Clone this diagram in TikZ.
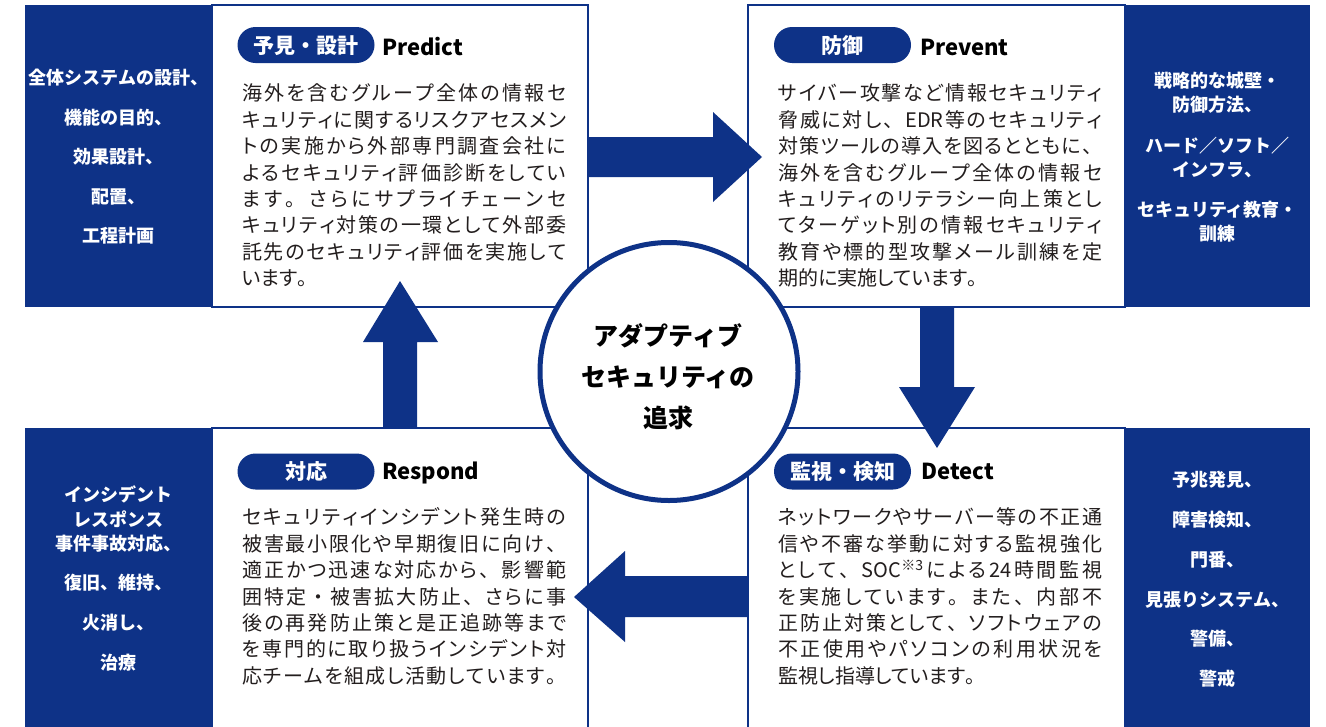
\documentclass[tikz,border=0pt]{standalone}
\usepackage{fontspec}
\setmainfont{Noto Sans CJK JP}
\newfontfamily\paltfont{Noto Sans CJK JP}[RawFeature=+palt]
\newfontfamily\nopaltfont{Noto Sans CJK JP}
\definecolor{navy}{RGB}{14,50,135}
\definecolor{ink}{RGB}{35,30,30}
\newdimen\jlinew \jlinew=324pt
\def\kuten{。}\def\touten{、}\def\nakaguro{・}
\newcommand\spreadOut[1]{\def\tmpa{#1}%
  \ifx\tmpa\kuten{\nopaltfont#1}\else\ifx\tmpa\touten{\nopaltfont#1}\else
  \ifx\tmpa\nakaguro{\nopaltfont#1}\else#1\fi\fi\fi}
\def\spreadA#1{\spreadOut{#1}\futurelet\next\spreadB}
\def\spreadB{\ifx\next\relax\expandafter\spreadEnd\else\hskip 0pt plus 1fil minus 3pt\relax\expandafter\spreadA\fi}
\def\spreadEnd\relax{}
\newcommand\jl[1]{\hbox to\jlinew{\rule[-0.12em]{0pt}{1em}\spreadA#1\relax}}
\newcommand\jn[1]{\hbox{\rule[-0.12em]{0pt}{1em}\spreadN#1\relax}}
\def\spreadN#1{\spreadOut{#1}\futurelet\next\spreadC}
\def\spreadC{\ifx\next\relax\expandafter\spreadEnd\else\expandafter\spreadN\fi}
\newcommand\cl[1]{\rule[-0.12em]{0pt}{1em}#1}
\begin{document}
\begin{tikzpicture}[x=1pt,y=-1pt,
  panel/.style={fill=navy},
  boxline/.style={draw=navy,line width=1.3pt,fill=white},
  blockarrow/.style={fill=navy},
  pill/.style={fill=navy,text=white,rounded corners=18pt,minimum width=137pt,minimum height=36pt,inner sep=0pt,
    font=\bfseries\fontsize{21}{21}\selectfont,text height=18.5pt,text depth=2.5pt},
  eng/.style={anchor=west,inner sep=0pt,text=black,font=\bfseries\fontsize{22}{22}\selectfont,text height=15.4pt,text depth=0pt},
  bodytext/.style={anchor=north west,inner sep=0pt,text=ink,font=\paltfont\fontsize{20}{26.4}\selectfont},
  sidetext/.style={inner sep=0pt,text=white,font=\bfseries\fontsize{18}{18}\selectfont,text height=15.84pt,text depth=2.16pt},
  coretext/.style={align=center,inner sep=0pt,text=black,font=\bfseries\fontsize{25}{41}\selectfont}
]
\clip (0,0) rectangle (1326,726);
\fill[white] (0,0) rectangle (1326,726);
% side panels
\fill[panel] (25,5) rectangle (212,307);
\fill[panel] (1125,5) rectangle (1310,307);
\fill[panel] (25,428) rectangle (212,740);
\fill[panel] (1125,428) rectangle (1310,740);
% white boxes
\draw[boxline] (212,5) rectangle (588,307);
\draw[boxline] (748,5) rectangle (1125,307);
\draw[boxline] (212,428) rectangle (588,740);
\draw[boxline] (748,428) rectangle (1125,740);
% block arrows
\fill[blockarrow] (588,137) -- (713,137) -- (713,112) -- (762,157) -- (713,202) -- (713,177) -- (588,177) -- cycle;
\fill[blockarrow] (920,307) -- (920,387) -- (899,387) -- (937,448) -- (975,387) -- (954,387) -- (954,307) -- cycle;
\fill[blockarrow] (748,576) -- (625,576) -- (625,551) -- (574,597) -- (625,642) -- (625,617) -- (748,617) -- cycle;
\fill[blockarrow] (383,428) -- (383,342) -- (363,342) -- (400,281) -- (438,342) -- (417,342) -- (417,428) -- cycle;
% centre circle
\node[circle,draw=navy,line width=5pt,fill=white,minimum size=258pt,inner sep=0pt] (core) at (669,371.5) {};
\node[coretext] (corelabel) at (668,377) {\cl{アダプティブ}\\\cl{セキュリティの}\\\cl{追求}};
% pills and english labels
\node[pill] (ppredict) at (306,45) {予見・設計};
\node[pill] (pprevent) at (842.5,45) {防御};
\node[pill] (prespond) at (306,471.5) {対応};
\node[pill] (pdetect) at (842.5,471.5) {監視・検知};
\node[eng] (epredict) at (382,48) {Predict};
\node[eng] (eprevent) at (920,48) {Prevent};
\node[eng] (erespond) at (382,472) {Respond};
\node[eng] (edetect) at (921,472) {Detect};
% body texts
\node[bodytext] (bpredict) at (242,83) {\vbox{%
\jl{海外を含むグループ全体の情報セ}
\jl{キュリティに関するリスクアセスメン}
\jl{トの実施から外部専門調査会社に}
\jl{よるセキュリティ評価診断をしてい}
\jl{ます。さらにサプライチェーンセ}
\jl{キュリティ対策の一環として外部委}
\jl{託先のセキュリティ評価を実施して}
\jn{います。}}};
\node[bodytext] (bprevent) at (778,83) {\vbox{%
\jl{サイバー攻撃など情報セキュリティ}
\jl{脅威に対し、{EDR}等のセキュリティ}
\jl{対策ツールの導入を図るとともに、}
\jl{海外を含むグループ全体の情報セ}
\jl{キュリティのリテラシー向上策とし}
\jl{てターゲット別の情報セキュリティ}
\jl{教育や標的型攻撃メール訓練を定}
\jn{期的に実施しています。}}};
\node[bodytext] (brespond) at (242,507) {\vbox{%
\jl{セキュリティインシデント発生時の}
\jl{被害最小限化や早期復旧に向け、}
\jl{適正かつ迅速な対応から、影響範}
\jl{囲特定・被害拡大防止、さらに事}
\jl{後の再発防止策と是正追跡等まで}
\jl{を専門的に取り扱うインシデント対}
\jl{応チームを組成し活動しています。}}};
\node[bodytext] (bdetect) at (778,507) {\vbox{%
\jl{ネットワークやサーバー等の不正通}
\jl{信や不審な挙動に対する監視強化}
\jl{として、{SOC\textsuperscript{※3}}による{24}時間監視}
\jl{を実施しています。また、内部不}
\jl{正防止対策として、ソフトウェアの}
\jl{不正使用やパソコンの利用状況を}
\jn{監視し指導しています。}}};
% side panel texts
\foreach \py/\lbl [count=\i] in {78/全体システムの設計、,117.5/機能の目的、,157/効果設計、,196.5/配置、,236/工程計画}
  {\node[sidetext] (stl\i) at (118.5,\py) {\lbl};}
\foreach \py/\lbl [count=\i] in {81/戦略的な城壁・,105/防御方法、,146/ハード／ソフト／,170/インフラ、,210/セキュリティ教育・,234/訓練}
  {\node[sidetext] (str\i) at (1217.5,\py) {\lbl};}
\foreach \py/\lbl [count=\i] in {495/インシデント,519.5/レスポンス,544/事件事故対応、,583/復旧、維持、,623/火消し、,663/治療}
  {\node[sidetext] (sbl\i) at (118.5,\py) {\lbl};}
\foreach \py/\lbl [count=\i] in {480/予兆発見、,520/障害検知、,560/門番、,599.5/見張りシステム、,639/警備、,678.5/警戒}
  {\node[sidetext] (sbr\i) at (1217.5,\py) {\lbl};}
\end{tikzpicture}
\end{document}
